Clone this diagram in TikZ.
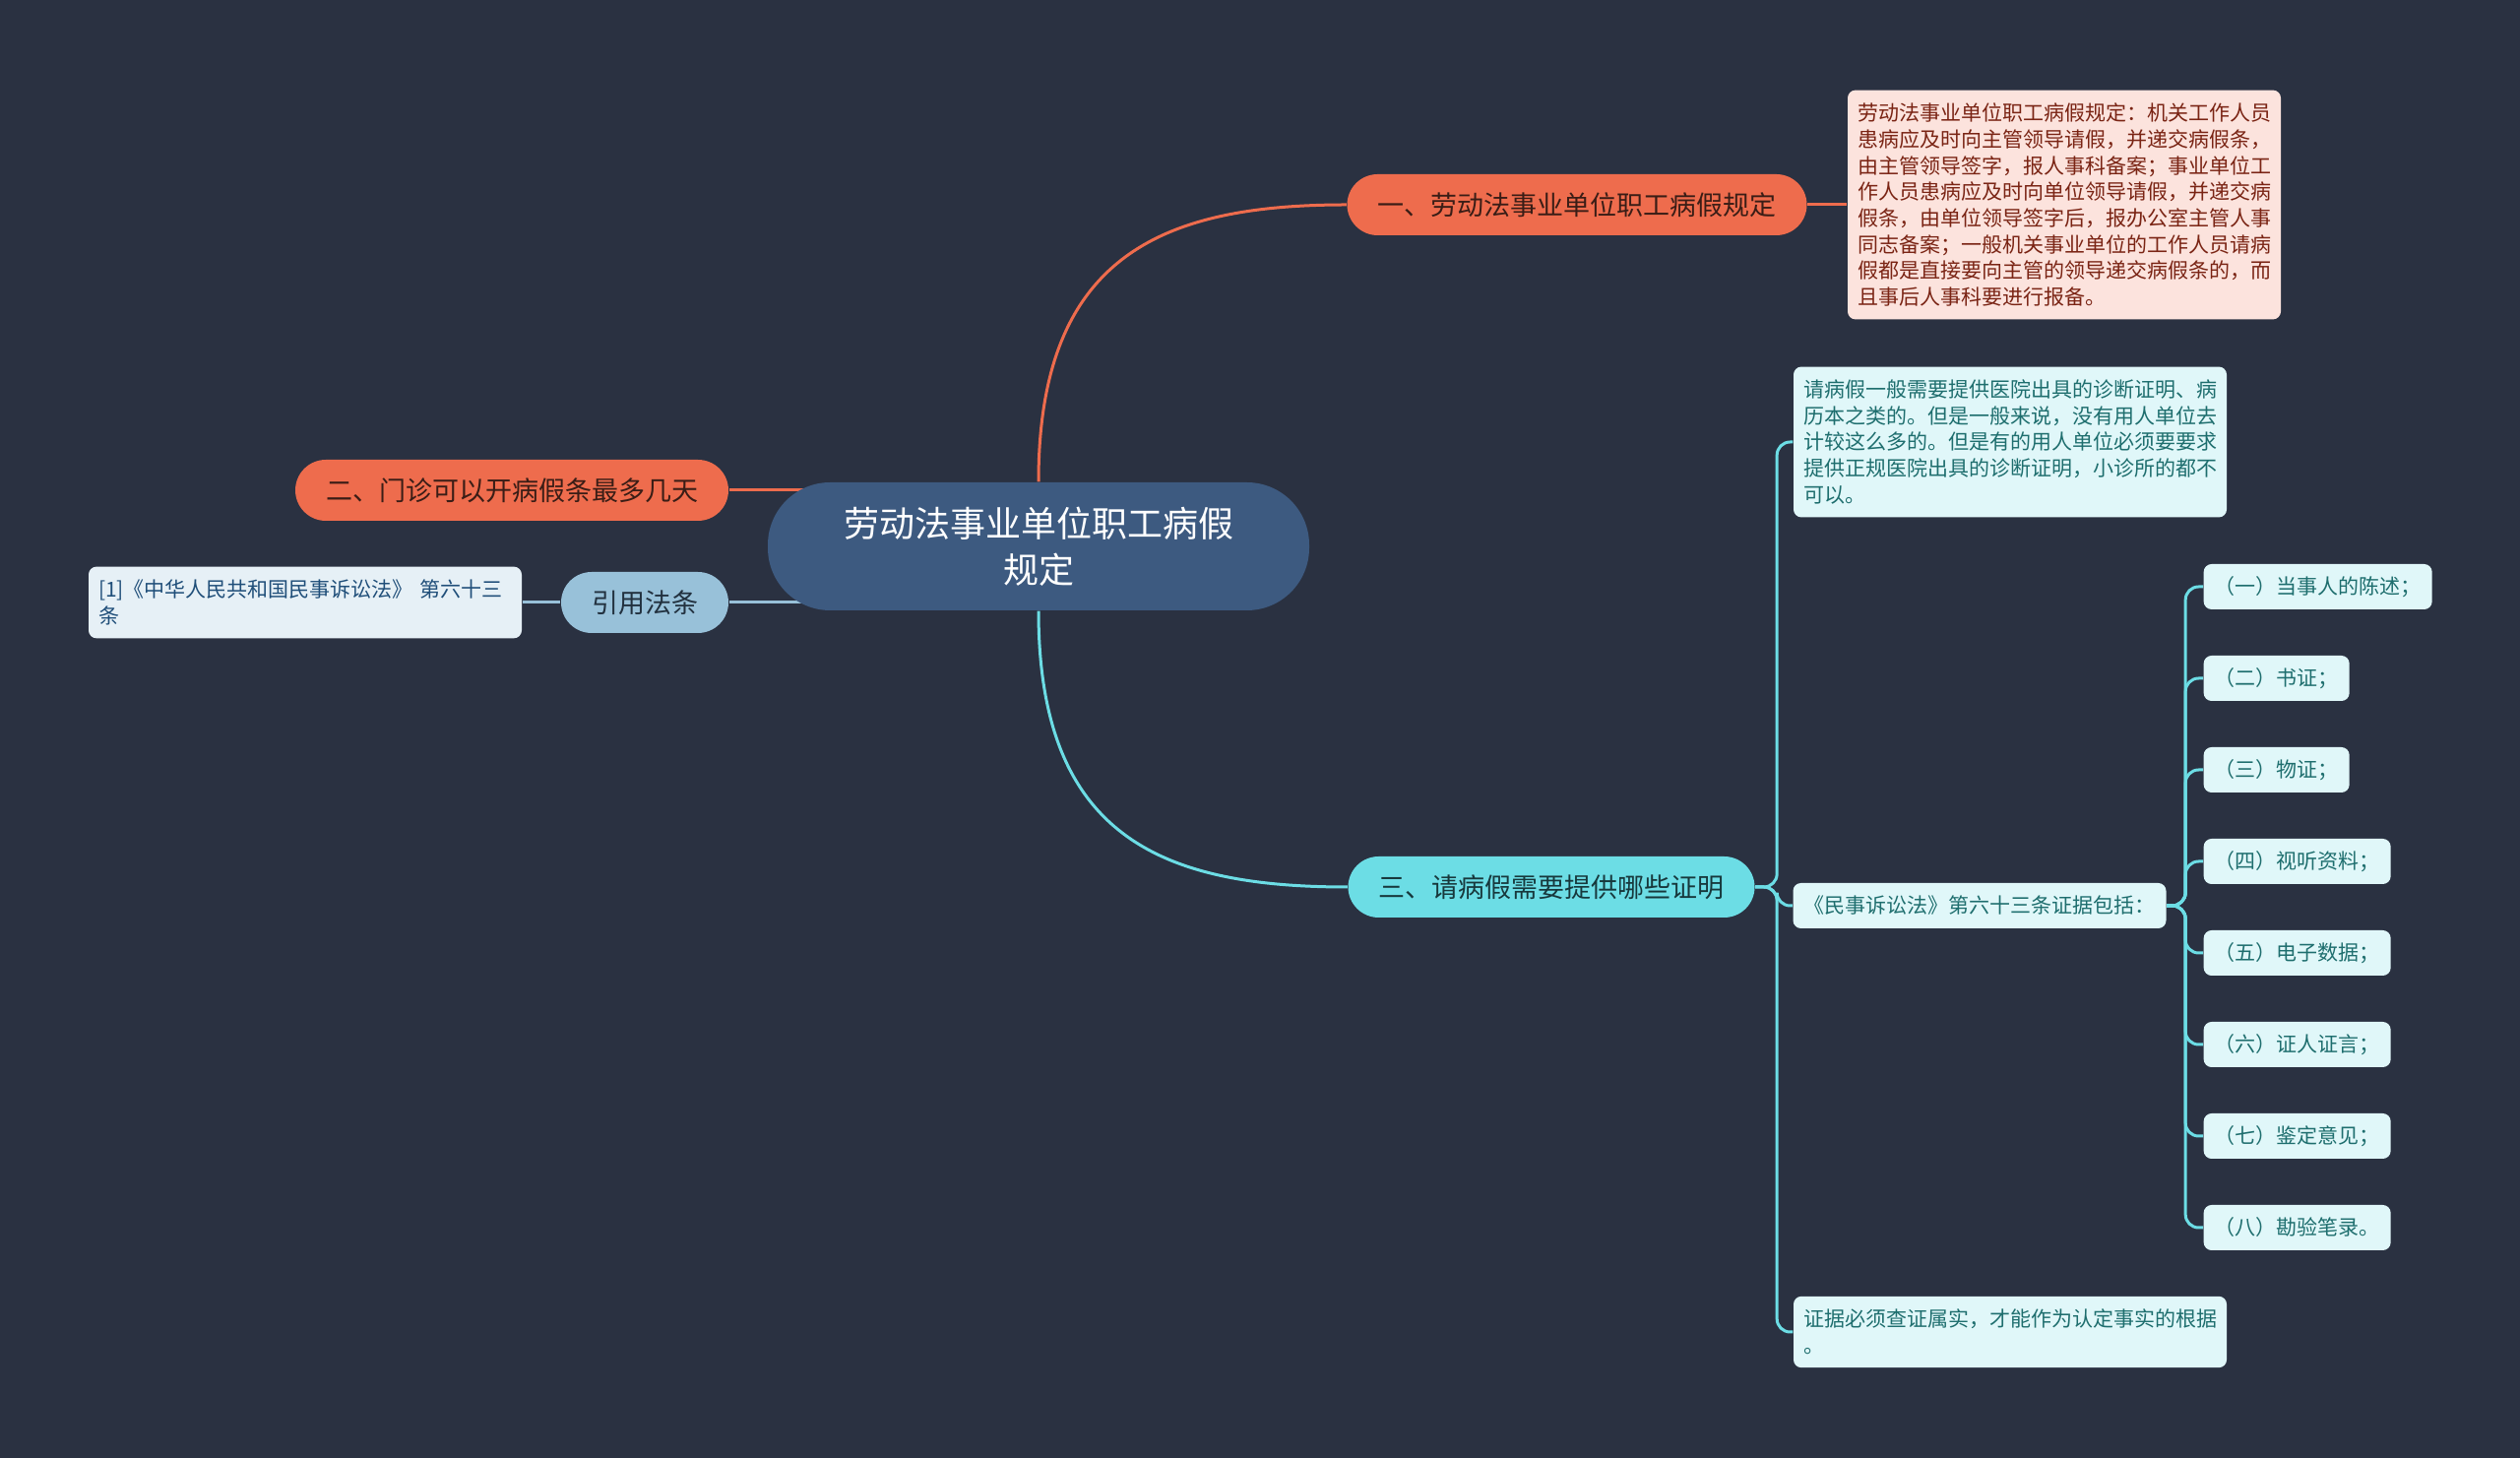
\documentclass[tikz,border=0pt]{standalone}
\usepackage{fontspec}
\setmainfont{Noto Sans CJK SC}
\usetikzlibrary{backgrounds}
\definecolor{bgnavy}{HTML}{2A3141}
\definecolor{rootblue}{HTML}{3D5A80}
\definecolor{coral}{HTML}{EE6C4D}
\definecolor{coraltext}{HTML}{3A1D16}
\definecolor{pinkbox}{HTML}{FCE3DD}
\definecolor{pinktext}{HTML}{7A2414}
\definecolor{skyblue}{HTML}{98C1D9}
\definecolor{skytext}{HTML}{22313F}
\definecolor{iceblue}{HTML}{E6F0F6}
\definecolor{icetext}{HTML}{1F4E79}
\definecolor{aqua}{HTML}{6CDDE5}
\definecolor{aquatext}{HTML}{17383C}
\definecolor{aquabox}{HTML}{E0F7F9}
\definecolor{aquaboxtext}{HTML}{1E6E6E}

\begin{document}
\begin{tikzpicture}[x=0.3pt,y=-0.3pt,
    root/.style={fill=rootblue, text=white, rounded corners=19pt,
      minimum width=165pt, minimum height=39pt, align=center,
      font=\fontsize{10.8}{14.2}\selectfont},
    pill/.style={rounded corners=9.3pt, minimum height=18.6pt, inner xsep=9.3pt,
      font=\fontsize{8.1}{10}\selectfont},
    memo/.style={rounded corners=2.4pt, text width=126pt, inner xsep=3pt,
      inner ysep=4pt, align=left, font=\fontsize{6.3}{8}\selectfont},
    tag/.style={rounded corners=2.4pt, minimum height=13.8pt, inner xsep=3.3pt,
      font=\fontsize{6.3}{8}\selectfont},
    link/.style={line width=0.9pt}]
    \useasboundingbox (0,0) rectangle (2560,1481);

    % root and main branches
    \node[root] (C) at (1055,555) {劳动法事业单位职工病假\\规定};
    \node[pill, fill=coral, text=coraltext] (B1) at (1602,208) {一、劳动法事业单位职工病假规定};
    \node[pill, fill=coral, text=coraltext] (B2) at (520,498) {二、门诊可以开病假条最多几天};
    \node[pill, fill=skyblue, text=skytext] (B3) at (655,612) {引用法条};
    \node[pill, fill=aqua, text=aquatext] (B4) at (1576,901) {三、请病假需要提供哪些证明};

    % leaves
    \node[memo, fill=pinkbox, text=pinktext] (D1) at (2097,208) {劳动法事业单位职工病假规定：机关工作人员\\患病应及时向主管领导请假，并递交病假条，\\由主管领导签字，报人事科备案；事业单位工\\作人员患病应及时向单位领导请假，并递交病\\假条，由单位领导签字后，报办公室主管人事\\同志备案；一般机关事业单位的工作人员请病\\假都是直接要向主管的领导递交病假条的，而\\且事后人事科要进行报备。};
    \node[memo, fill=iceblue, text=icetext] (L) at (310,612) {[1]《中华人民共和国民事诉讼法》 第六十三\\条};
    \node[memo, fill=aquabox, text=aquaboxtext] (DA) at (2042,449) {请病假一般需要提供医院出具的诊断证明、病\\历本之类的。但是一般来说，没有用人单位去\\计较这么多的。但是有的用人单位必须要要求\\提供正规医院出具的诊断证明，小诊所的都不\\可以。};
    \node[tag, fill=aquabox, text=aquaboxtext] (DB) at (2011,920) {《民事诉讼法》第六十三条证据包括：};
    \node[memo, fill=aquabox, text=aquaboxtext] (DC) at (2042,1353) {证据必须查证属实，才能作为认定事实的根据\\。};

    \foreach \name/\txt [count=\i from 0] in {I1/（一）当事人的陈述；, I2/（二）书证；, I3/（三）物证；,
        I4/（四）视听资料；, I5/（五）电子数据；, I6/（六）证人证言；, I7/（七）鉴定意见；, I8/（八）勘验笔录。}
      \node[tag, anchor=west, fill=aquabox, text=aquaboxtext] (\name) at (2238,596+93*\i) {\txt};

    \begin{scope}[on background layer]
      \fill[bgnavy] (0,0) rectangle (2560,1481);
      \draw[link, coral] (C) .. controls (1055,260) and (1180,208) .. (B1.west);
      \draw[link, aqua] (C) .. controls (1055,850) and (1180,901) .. (B4.west);
      \draw[link, coral] (B2) -- (B2 -| C);
      \draw[link, skyblue] (B3) -- (B3 -| C);
      \draw[link, coral] (B1) -- (D1);
      \draw[link, skyblue] (L) -- (B3);
      \foreach \leaf in {DA,DB,DC}
        \draw[link, aqua, rounded corners=4pt] (B4.east) -- ++(22,0) |- (\leaf.west);
      \foreach \i in {1,...,8}
        \draw[link, aqua, rounded corners=4pt] (DB.east) -- ++(19,0) |- (I\i.west);
    \end{scope}
\end{tikzpicture}
\end{document}
